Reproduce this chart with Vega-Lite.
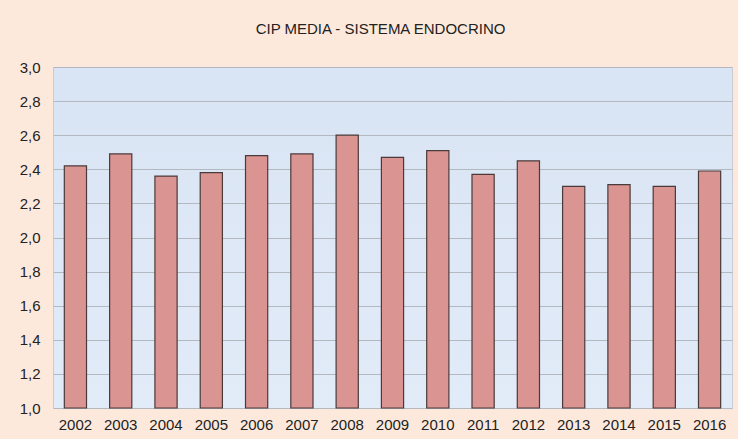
{
  "$schema": "https://vega.github.io/schema/vega-lite/v6.json",
  "autosize": {"type": "none"},
  "width": 679,
  "height": 341,
  "padding": {"left": 53, "top": 67, "right": 6, "bottom": 31},
  "background": "#fde9dc",
  "title": {
    "text": "CIP MEDIA - SISTEMA ENDOCRINO",
    "font": "Liberation Sans",
    "fontSize": 15,
    "fontWeight": "normal",
    "color": "#222222",
    "offset": 23,
    "dx": -12
  },
  "config": {
    "view": {
      "stroke": "#c8ccd4",
      "strokeWidth": 1,
      "fill": {
        "gradient": "linear",
        "x1": 0, "y1": 0, "x2": 0, "y2": 1,
        "stops": [
          {"offset": 0, "color": "#d9e4f4"},
          {"offset": 1, "color": "#e2ebf8"}
        ]
      }
    },
    "axis": {
      "labelFont": "Liberation Sans",
      "labelFontSize": 15,
      "labelColor": "#222222",
      "domain": false,
      "ticks": false,
      "title": null
    }
  },
  "data": {
    "values": [
      {"year": "2002", "value": 2.42},
      {"year": "2003", "value": 2.49},
      {"year": "2004", "value": 2.36},
      {"year": "2005", "value": 2.38},
      {"year": "2006", "value": 2.48},
      {"year": "2007", "value": 2.49},
      {"year": "2008", "value": 2.60},
      {"year": "2009", "value": 2.47},
      {"year": "2010", "value": 2.51},
      {"year": "2011", "value": 2.37},
      {"year": "2012", "value": 2.45},
      {"year": "2013", "value": 2.30},
      {"year": "2014", "value": 2.31},
      {"year": "2015", "value": 2.30},
      {"year": "2016", "value": 2.39}
    ]
  },
  "mark": {
    "type": "bar",
    "fill": "#da9592",
    "stroke": "#4a3a3a",
    "strokeWidth": 1.2
  },
  "encoding": {
    "x": {
      "field": "year",
      "type": "ordinal",
      "scale": {"paddingInner": 0.51, "paddingOuter": 0.25},
      "axis": {"labelAngle": 0, "labelPadding": 9, "grid": false}
    },
    "y": {
      "field": "value",
      "type": "quantitative",
      "scale": {"domain": [1, 3], "nice": false, "zero": false},
      "axis": {
        "values": [1, 1.2, 1.4, 1.6, 1.8, 2, 2.2, 2.4, 2.6, 2.8, 3],
        "format": ".1f",
        "labelExpr": "replace(datum.label, '.', ',')",
        "labelPadding": 13,
        "grid": true,
        "gridColor": "#b4b8c0",
        "gridWidth": 1
      }
    },
    "y2": {"datum": 1}
  }
}
